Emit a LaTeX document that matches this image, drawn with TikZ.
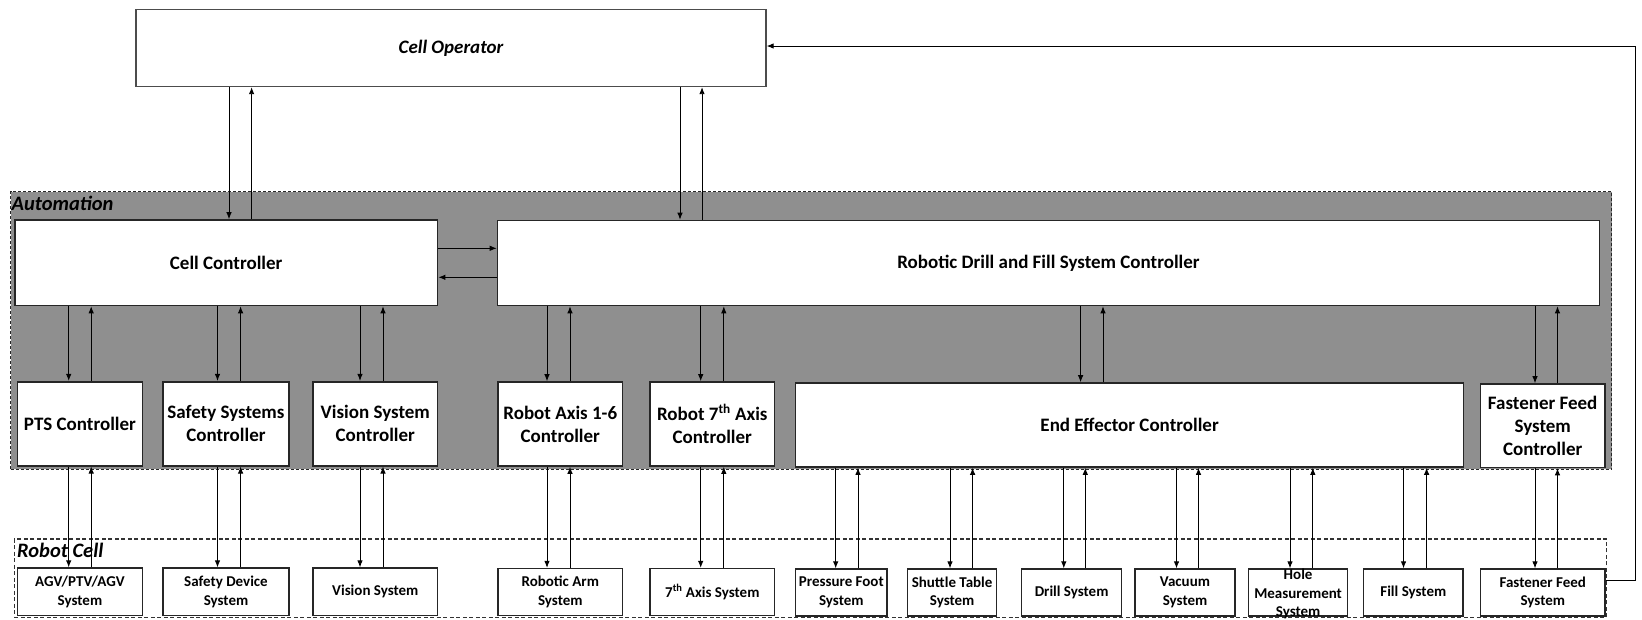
\documentclass[tikz,border=0pt]{standalone}
\usepackage{fontspec}
\setmainfont{Carlito}
\usetikzlibrary{arrows.meta}

% \blk{style}{name}{x1}{y1}{x2}{y2}{text}: a box given by its corners
\newcommand\blk[7]{%
  \node[#1, minimum width={(#5-#3)*1pt}, minimum height={(#6-#4)*1pt}]
    (#2) at ({(#3+#5)/2},{(#4+#6)/2}) {#7};}
% \duplex{upper}{lower}{x down}{x up}: a pair of opposite vertical links
\newcommand\duplex[4]{%
  \draw[link] (#3,0 |- #1.south) -- (#3,0 |- #2.north);
  \draw[link] (#4,0 |- #2.north) -- (#4,0 |- #1.south);}

\begin{document}
\begin{tikzpicture}[x=1pt,y=-1pt,
  outline/.style={draw=black!85, line width=1.6pt, fill=white, inner sep=0pt,
    align=center, font=\bfseries\fontsize{19}{23}\selectfont},
  smallbox/.style={outline, line width=1.3pt,
    font=\bfseries\fontsize{15}{18.5}\selectfont},
  operator/.style={outline, draw=black!70, line width=1.3pt,
    font=\bfseries\itshape\fontsize{19}{23}\selectfont},
  autoreg/.style={draw=black!85, dash pattern=on 3pt off 2pt, line width=1.3pt,
    fill=black!44, inner sep=0pt},
  cellreg/.style={draw=black!80, dash pattern=on 4pt off 2.5pt, line width=1.1pt,
    inner sep=0pt},
  reglabel/.style={font=\bfseries\itshape\fontsize{20.5}{24}\selectfont,
    inner sep=0pt, anchor=base west},
  bodytext/.style={align=center, inner sep=0pt,
    font=\bfseries\fontsize{15}{18.5}\selectfont},
  link/.style={draw=black, line width=0.9pt, -{Latex[length=7pt,width=5.5pt]}},
]
\useasboundingbox (0,0) rectangle (1642,619);

% regions
\blk{autoreg}{automation}{10.5}{191.5}{1611.7}{469.3}{}
\node[reglabel] (autolbl) at (11.5,210.5) {Automation};
\blk{cellreg}{robotcell}{14.3}{539}{1606.7}{617.5}{}
\node[reglabel] (celllbl) at (17,557.5) {Robot Cell};

% operator
\blk{operator}{op}{136}{9.5}{766}{86.5}{Cell Operator}

% upper controllers
\blk{outline}{cc}{14.7}{220}{437.6}{305.5}{Cell Controller}
\blk{outline}{rdf}{497.5}{220.5}{1599.4}{305.5}{Robotic Drill and Fill System Controller}

% lower controllers
\blk{outline}{pts}{17.3}{381.7}{142.6}{465.7}{PTS Controller}
\blk{outline}{sfc}{163}{381.7}{288.8}{465.7}{Safety Systems\\Controller}
\blk{outline}{vsc}{313}{381.7}{437.6}{465.7}{Vision System\\Controller}
\blk{outline}{rac}{498}{382}{622.6}{466}{Robot Axis 1-6\\Controller}
\blk{outline}{r7c}{650}{382}{774.6}{466}{Robot 7\textsuperscript{th} Axis\\Controller}
\blk{outline}{eec}{795.6}{383}{1463.6}{467}{End Effector Controller}
\blk{outline}{ffc}{1480.4}{384}{1605}{467.5}{Fastener Feed\\System\\Controller}

% cell equipment
\blk{smallbox}{agv}{17.3}{568}{142.6}{615.5}{AGV/PTV/AGV\\System}
\blk{smallbox}{sds}{163}{568}{289}{615.5}{Safety Device\\System}
\blk{smallbox}{vis}{313}{568}{437.6}{615.5}{Vision System}
\blk{smallbox}{ram}{498}{568.5}{622.6}{615.5}{Robotic Arm\\System}
\blk{smallbox}{a7s}{650}{568.5}{774.6}{615.5}{7\textsuperscript{th} Axis System}
\blk{smallbox}{pfs}{795.6}{569}{887}{616}{Pressure Foot\\System}
\blk{smallbox}{sts}{907.5}{569}{996.7}{616}{Shuttle Table\\System}
\blk{smallbox}{drl}{1021.8}{569}{1121.4}{616}{Drill System}
\blk{smallbox}{vac}{1135}{569}{1235}{616}{Vacuum\\System}
\blk{smallbox}{hms}{1248.8}{569}{1347.4}{616}{}
\node[bodytext] (hmstext) at ([yshift=-1.5pt]hms.center) {Hole\\Measurement\\System};
\blk{smallbox}{fil}{1363.6}{569}{1463}{616}{Fill System}
\blk{smallbox}{ffs}{1480.5}{569}{1605}{616}{Fastener Feed\\System}

% operator links
\duplex{op}{cc}{229}{251.6}
\duplex{op}{rdf}{680}{702}

% controller to controller
\draw[link] (cc.east |- 0,248.3) -- (rdf.west |- 0,248.3);
\draw[link] (rdf.west |- 0,277.3) -- (cc.east |- 0,277.3);

% cell controller branches
\duplex{cc}{pts}{68.7}{91.2}
\duplex{cc}{sfc}{217.5}{240.6}
\duplex{cc}{vsc}{360}{383}

% drill and fill branches
\duplex{rdf}{rac}{547}{570}
\duplex{rdf}{r7c}{700.7}{723.8}
\duplex{rdf}{eec}{1080.6}{1103}
\duplex{rdf}{ffc}{1535}{1557.5}

% controllers to equipment
\duplex{pts}{agv}{68.7}{91.2}
\duplex{sfc}{sds}{217.5}{240.6}
\duplex{vsc}{vis}{360}{383}
\duplex{rac}{ram}{547}{570}
\duplex{r7c}{a7s}{700.7}{723.8}
\duplex{eec}{pfs}{835.7}{858}
\duplex{eec}{sts}{950}{972.6}
\duplex{eec}{drl}{1063.8}{1085.3}
\duplex{eec}{vac}{1176.5}{1198.5}
\duplex{eec}{hms}{1290}{1312.8}
\duplex{eec}{fil}{1403.5}{1426.6}
\duplex{ffc}{ffs}{1535}{1557.5}

% feedback to the operator
\coordinate (loopa) at (1635.5,580);
\coordinate (loopb) at (1635.5,46);
\draw[link] (ffs.east |- loopa) -- (loopa) -- (loopb) -- (op.east |- loopb);
\end{tikzpicture}
\end{document}
